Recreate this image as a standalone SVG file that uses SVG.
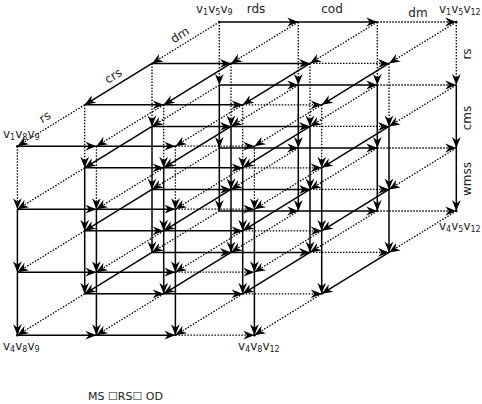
<svg xmlns="http://www.w3.org/2000/svg" width="482" height="404" viewBox="0 0 482 404">
<style>
line{fill:none;stroke:#000;marker-end:url(#a)}
.s{stroke-width:1.5}
.d{stroke-width:1.3;stroke-dasharray:1.5 1.5}
text{font-family:"DejaVu Sans",Verdana,sans-serif;font-size:12px;fill:#222}
.sb{font-size:8px}
circle{fill:#000}
</style>
<defs>
<marker id="a" markerUnits="userSpaceOnUse" markerWidth="14" markerHeight="10" refX="11" refY="5" orient="auto" viewBox="0 0 14 10" overflow="visible"><path d="M11,5 L0,0.6 L3.5,5 L0,9.4 Z" fill="#000"/></marker>
</defs>
<g id="connectors">
<line class="s" x1="219.3" y1="22" x2="298.3" y2="22"/><line class="s" x1="298.3" y1="22" x2="377.3" y2="22"/><line class="d" x1="377.3" y1="22" x2="456.3" y2="22"/>
<line class="s" x1="219.3" y1="85" x2="298.3" y2="85"/><line class="s" x1="298.3" y1="85" x2="377.3" y2="85"/><line class="d" x1="377.3" y1="85" x2="456.3" y2="85"/>
<line class="s" x1="219.3" y1="148" x2="298.3" y2="148"/><line class="s" x1="298.3" y1="148" x2="377.3" y2="148"/><line class="d" x1="377.3" y1="148" x2="456.3" y2="148"/>
<line class="s" x1="219.3" y1="211" x2="298.3" y2="211"/><line class="s" x1="298.3" y1="211" x2="377.3" y2="211"/><line class="d" x1="377.3" y1="211" x2="456.3" y2="211"/>
<line class="s" x1="152" y1="63.4" x2="231" y2="63.4"/><line class="s" x1="231" y1="63.4" x2="310" y2="63.4"/><line class="d" x1="310" y1="63.4" x2="389" y2="63.4"/>
<line class="s" x1="152" y1="126.4" x2="231" y2="126.4"/><line class="s" x1="231" y1="126.4" x2="310" y2="126.4"/><line class="d" x1="310" y1="126.4" x2="389" y2="126.4"/>
<line class="s" x1="152" y1="189.4" x2="231" y2="189.4"/><line class="s" x1="231" y1="189.4" x2="310" y2="189.4"/><line class="d" x1="310" y1="189.4" x2="389" y2="189.4"/>
<line class="s" x1="152" y1="252.4" x2="231" y2="252.4"/><line class="s" x1="231" y1="252.4" x2="310" y2="252.4"/><line class="d" x1="310" y1="252.4" x2="389" y2="252.4"/>
<line class="s" x1="84.7" y1="104.8" x2="163.7" y2="104.8"/><line class="s" x1="163.7" y1="104.8" x2="242.7" y2="104.8"/><line class="d" x1="242.7" y1="104.8" x2="321.7" y2="104.8"/>
<line class="s" x1="84.7" y1="167.8" x2="163.7" y2="167.8"/><line class="s" x1="163.7" y1="167.8" x2="242.7" y2="167.8"/><line class="d" x1="242.7" y1="167.8" x2="321.7" y2="167.8"/>
<line class="s" x1="84.7" y1="230.8" x2="163.7" y2="230.8"/><line class="s" x1="163.7" y1="230.8" x2="242.7" y2="230.8"/><line class="d" x1="242.7" y1="230.8" x2="321.7" y2="230.8"/>
<line class="s" x1="84.7" y1="293.8" x2="163.7" y2="293.8"/><line class="s" x1="163.7" y1="293.8" x2="242.7" y2="293.8"/><line class="d" x1="242.7" y1="293.8" x2="321.7" y2="293.8"/>
<line class="s" x1="17.4" y1="146.2" x2="96.4" y2="146.2"/><line class="s" x1="96.4" y1="146.2" x2="175.4" y2="146.2"/><line class="d" x1="175.4" y1="146.2" x2="254.4" y2="146.2"/>
<line class="s" x1="17.4" y1="209.2" x2="96.4" y2="209.2"/><line class="s" x1="96.4" y1="209.2" x2="175.4" y2="209.2"/><line class="d" x1="175.4" y1="209.2" x2="254.4" y2="209.2"/>
<line class="s" x1="17.4" y1="272.2" x2="96.4" y2="272.2"/><line class="s" x1="96.4" y1="272.2" x2="175.4" y2="272.2"/><line class="d" x1="175.4" y1="272.2" x2="254.4" y2="272.2"/>
<line class="s" x1="17.4" y1="335.2" x2="96.4" y2="335.2"/><line class="s" x1="96.4" y1="335.2" x2="175.4" y2="335.2"/><line class="d" x1="175.4" y1="335.2" x2="254.4" y2="335.2"/>
<line class="d" x1="219.3" y1="22" x2="152" y2="63.4"/><line class="s" x1="152" y1="63.4" x2="84.7" y2="104.8"/><line class="d" x1="84.7" y1="104.8" x2="17.4" y2="146.2"/>
<line class="d" x1="219.3" y1="85" x2="152" y2="126.4"/><line class="s" x1="152" y1="126.4" x2="84.7" y2="167.8"/><line class="d" x1="84.7" y1="167.8" x2="17.4" y2="209.2"/>
<line class="d" x1="219.3" y1="148" x2="152" y2="189.4"/><line class="s" x1="152" y1="189.4" x2="84.7" y2="230.8"/><line class="d" x1="84.7" y1="230.8" x2="17.4" y2="272.2"/>
<line class="d" x1="219.3" y1="211" x2="152" y2="252.4"/><line class="s" x1="152" y1="252.4" x2="84.7" y2="293.8"/><line class="d" x1="84.7" y1="293.8" x2="17.4" y2="335.2"/>
<line class="d" x1="298.3" y1="22" x2="231" y2="63.4"/><line class="s" x1="231" y1="63.4" x2="163.7" y2="104.8"/><line class="d" x1="163.7" y1="104.8" x2="96.4" y2="146.2"/>
<line class="d" x1="298.3" y1="85" x2="231" y2="126.4"/><line class="s" x1="231" y1="126.4" x2="163.7" y2="167.8"/><line class="d" x1="163.7" y1="167.8" x2="96.4" y2="209.2"/>
<line class="d" x1="298.3" y1="148" x2="231" y2="189.4"/><line class="s" x1="231" y1="189.4" x2="163.7" y2="230.8"/><line class="d" x1="163.7" y1="230.8" x2="96.4" y2="272.2"/>
<line class="d" x1="298.3" y1="211" x2="231" y2="252.4"/><line class="s" x1="231" y1="252.4" x2="163.7" y2="293.8"/><line class="d" x1="163.7" y1="293.8" x2="96.4" y2="335.2"/>
<line class="d" x1="377.3" y1="22" x2="310" y2="63.4"/><line class="s" x1="310" y1="63.4" x2="242.7" y2="104.8"/><line class="d" x1="242.7" y1="104.8" x2="175.4" y2="146.2"/>
<line class="d" x1="377.3" y1="85" x2="310" y2="126.4"/><line class="s" x1="310" y1="126.4" x2="242.7" y2="167.8"/><line class="d" x1="242.7" y1="167.8" x2="175.4" y2="209.2"/>
<line class="d" x1="377.3" y1="148" x2="310" y2="189.4"/><line class="s" x1="310" y1="189.4" x2="242.7" y2="230.8"/><line class="d" x1="242.7" y1="230.8" x2="175.4" y2="272.2"/>
<line class="d" x1="377.3" y1="211" x2="310" y2="252.4"/><line class="s" x1="310" y1="252.4" x2="242.7" y2="293.8"/><line class="d" x1="242.7" y1="293.8" x2="175.4" y2="335.2"/>
<line class="d" x1="456.3" y1="22" x2="389" y2="63.4"/><line class="s" x1="389" y1="63.4" x2="321.7" y2="104.8"/><line class="d" x1="321.7" y1="104.8" x2="254.4" y2="146.2"/>
<line class="d" x1="456.3" y1="85" x2="389" y2="126.4"/><line class="s" x1="389" y1="126.4" x2="321.7" y2="167.8"/><line class="d" x1="321.7" y1="167.8" x2="254.4" y2="209.2"/>
<line class="d" x1="456.3" y1="148" x2="389" y2="189.4"/><line class="s" x1="389" y1="189.4" x2="321.7" y2="230.8"/><line class="d" x1="321.7" y1="230.8" x2="254.4" y2="272.2"/>
<line class="d" x1="456.3" y1="211" x2="389" y2="252.4"/><line class="s" x1="389" y1="252.4" x2="321.7" y2="293.8"/><line class="d" x1="321.7" y1="293.8" x2="254.4" y2="335.2"/>
<line class="d" x1="219.3" y1="22" x2="219.3" y2="85"/><line class="s" x1="219.3" y1="85" x2="219.3" y2="148"/><line class="s" x1="219.3" y1="148" x2="219.3" y2="211"/>
<line class="d" x1="298.3" y1="22" x2="298.3" y2="85"/><line class="s" x1="298.3" y1="85" x2="298.3" y2="148"/><line class="s" x1="298.3" y1="148" x2="298.3" y2="211"/>
<line class="d" x1="377.3" y1="22" x2="377.3" y2="85"/><line class="s" x1="377.3" y1="85" x2="377.3" y2="148"/><line class="s" x1="377.3" y1="148" x2="377.3" y2="211"/>
<line class="d" x1="456.3" y1="22" x2="456.3" y2="85"/><line class="s" x1="456.3" y1="85" x2="456.3" y2="148"/><line class="s" x1="456.3" y1="148" x2="456.3" y2="211"/>
<line class="d" x1="152" y1="63.4" x2="152" y2="126.4"/><line class="s" x1="152" y1="126.4" x2="152" y2="189.4"/><line class="s" x1="152" y1="189.4" x2="152" y2="252.4"/>
<line class="d" x1="231" y1="63.4" x2="231" y2="126.4"/><line class="s" x1="231" y1="126.4" x2="231" y2="189.4"/><line class="s" x1="231" y1="189.4" x2="231" y2="252.4"/>
<line class="d" x1="310" y1="63.4" x2="310" y2="126.4"/><line class="s" x1="310" y1="126.4" x2="310" y2="189.4"/><line class="s" x1="310" y1="189.4" x2="310" y2="252.4"/>
<line class="d" x1="389" y1="63.4" x2="389" y2="126.4"/><line class="s" x1="389" y1="126.4" x2="389" y2="189.4"/><line class="s" x1="389" y1="189.4" x2="389" y2="252.4"/>
<line class="d" x1="84.7" y1="104.8" x2="84.7" y2="167.8"/><line class="s" x1="84.7" y1="167.8" x2="84.7" y2="230.8"/><line class="s" x1="84.7" y1="230.8" x2="84.7" y2="293.8"/>
<line class="d" x1="163.7" y1="104.8" x2="163.7" y2="167.8"/><line class="s" x1="163.7" y1="167.8" x2="163.7" y2="230.8"/><line class="s" x1="163.7" y1="230.8" x2="163.7" y2="293.8"/>
<line class="d" x1="242.7" y1="104.8" x2="242.7" y2="167.8"/><line class="s" x1="242.7" y1="167.8" x2="242.7" y2="230.8"/><line class="s" x1="242.7" y1="230.8" x2="242.7" y2="293.8"/>
<line class="d" x1="321.7" y1="104.8" x2="321.7" y2="167.8"/><line class="s" x1="321.7" y1="167.8" x2="321.7" y2="230.8"/><line class="s" x1="321.7" y1="230.8" x2="321.7" y2="293.8"/>
<line class="d" x1="17.4" y1="146.2" x2="17.4" y2="209.2"/><line class="s" x1="17.4" y1="209.2" x2="17.4" y2="272.2"/><line class="s" x1="17.4" y1="272.2" x2="17.4" y2="335.2"/>
<line class="d" x1="96.4" y1="146.2" x2="96.4" y2="209.2"/><line class="s" x1="96.4" y1="209.2" x2="96.4" y2="272.2"/><line class="s" x1="96.4" y1="272.2" x2="96.4" y2="335.2"/>
<line class="d" x1="175.4" y1="146.2" x2="175.4" y2="209.2"/><line class="s" x1="175.4" y1="209.2" x2="175.4" y2="272.2"/><line class="s" x1="175.4" y1="272.2" x2="175.4" y2="335.2"/>
<line class="d" x1="254.4" y1="146.2" x2="254.4" y2="209.2"/><line class="s" x1="254.4" y1="209.2" x2="254.4" y2="272.2"/><line class="s" x1="254.4" y1="272.2" x2="254.4" y2="335.2"/>
</g>
<g id="edge-labels">
<text x="256" y="13" text-anchor="middle">rds</text>
<text x="332" y="13" text-anchor="middle">cod</text>
<text x="418" y="16.5" text-anchor="middle">dm</text>
<text transform="translate(471,54) rotate(-90)" text-anchor="middle">rs</text>
<text transform="translate(471,118) rotate(-90)" text-anchor="middle">cms</text>
<text transform="translate(471,179) rotate(-90)" text-anchor="middle">wmss</text>
<text transform="translate(182,38.5) rotate(-31.6)" text-anchor="middle">dm</text>
<text transform="translate(115.4,79.4) rotate(-31.6)" text-anchor="middle">crs</text>
<text transform="translate(47,120.5) rotate(-31.6)" text-anchor="middle">rs</text>
</g>
<g id="v1v5v9"><circle cx="219.3" cy="22" r="1.3"/><text x="196" y="12.5">v<tspan class="sb" dy="2">1</tspan><tspan dy="-2">v</tspan><tspan class="sb" dy="2">5</tspan><tspan dy="-2">v</tspan><tspan class="sb" dy="2">9</tspan></text></g>
<g id="v1v5v12"><circle cx="456.3" cy="22" r="1.3"/><text x="439" y="12.5">v<tspan class="sb" dy="2">1</tspan><tspan dy="-2">v</tspan><tspan class="sb" dy="2">5</tspan><tspan dy="-2">v</tspan><tspan class="sb" dy="2">12</tspan></text></g>
<g id="v1v8v9"><circle cx="17.4" cy="146.2" r="1.3"/><text x="3" y="137.5">v<tspan class="sb" dy="2">1</tspan><tspan dy="-2">v</tspan><tspan class="sb" dy="2">8</tspan><tspan dy="-2">v</tspan><tspan class="sb" dy="2">9</tspan></text></g>
<g id="v4v5v12"><circle cx="456.3" cy="211" r="1.3"/><text x="439" y="229.5">v<tspan class="sb" dy="2">4</tspan><tspan dy="-2">v</tspan><tspan class="sb" dy="2">5</tspan><tspan dy="-2">v</tspan><tspan class="sb" dy="2">12</tspan></text></g>
<g id="v4v8v9"><circle cx="17.4" cy="335.2" r="1.3"/><text x="3" y="349.5">v<tspan class="sb" dy="2">4</tspan><tspan dy="-2">v</tspan><tspan class="sb" dy="2">8</tspan><tspan dy="-2">v</tspan><tspan class="sb" dy="2">9</tspan></text></g>
<g id="v4v8v12"><circle cx="254.4" cy="335.2" r="1.3"/><text x="238" y="349.5">v<tspan class="sb" dy="2">4</tspan><tspan dy="-2">v</tspan><tspan class="sb" dy="2">8</tspan><tspan dy="-2">v</tspan><tspan class="sb" dy="2">12</tspan></text></g>
<g id="caption"><text x="88" y="400" style="font-size:11px">MS ☐RS☐ OD</text></g>
</svg>
